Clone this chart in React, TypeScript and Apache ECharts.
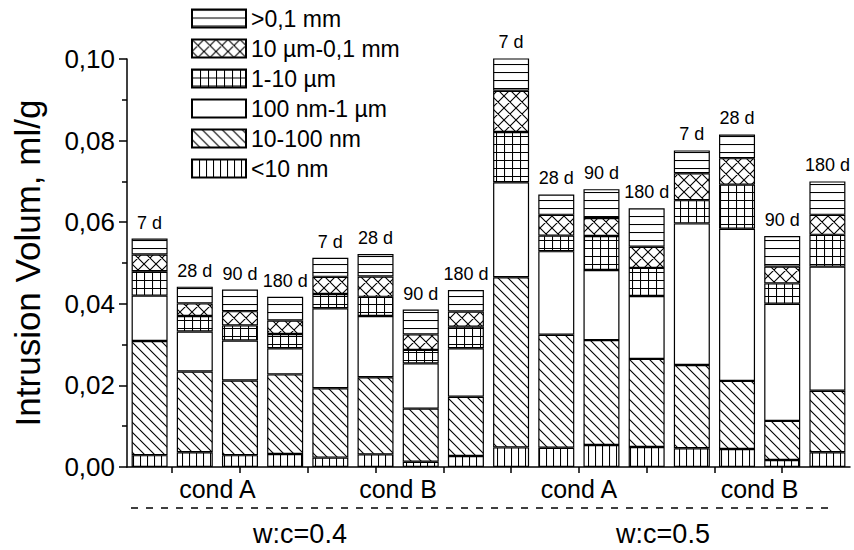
import React, { useEffect, useRef } from "react";
import * as echarts from "echarts";

// ---- data ----
const days = ["7 d", "28 d", "90 d", "180 d", "7 d", "28 d", "90 d", "180 d", "7 d", "28 d", "90 d", "180 d", "7 d", "28 d", "90 d", "180 d"];
const barIds = ["A04-7", "A04-28", "A04-90", "A04-180", "B04-7", "B04-28", "B04-90", "B04-180", "A05-7", "A05-28", "A05-90", "A05-180", "B05-7", "B05-28", "B05-90", "B05-180"];
const groupLabels = ["cond A", "cond B", "cond A", "cond B"];
const groupLabelPositions = [2, 6, 10, 14];
const xTickPositions = [1, 2.5, 4, 5.5, 7, 8.5, 10, 11.5, 13, 14.5];
const ratioLabels = ["w:c=0.4", "w:c=0.5"];

const poreLt10nm = [0.0029, 0.0036, 0.0029, 0.0032, 0.0023, 0.0031, 0.0013, 0.0027, 0.0048, 0.0047, 0.0054, 0.0049, 0.0046, 0.0044, 0.0017, 0.0036];
const pore10to100nm = [0.028, 0.0198, 0.0183, 0.0195, 0.017, 0.0189, 0.013, 0.0145, 0.0417, 0.0277, 0.0257, 0.0216, 0.0204, 0.0167, 0.0096, 0.0151];
const pore100nmTo1um = [0.0111, 0.0098, 0.0098, 0.0064, 0.0196, 0.015, 0.0111, 0.0119, 0.0233, 0.0205, 0.0172, 0.0154, 0.0347, 0.0373, 0.0287, 0.0304];
const pore1to10um = [0.006, 0.0038, 0.0037, 0.0035, 0.0035, 0.0047, 0.0033, 0.0053, 0.0123, 0.0038, 0.0083, 0.0069, 0.0057, 0.0108, 0.005, 0.0078];
const pore10umTo01mm = [0.0041, 0.0031, 0.0035, 0.0033, 0.0042, 0.005, 0.0038, 0.0037, 0.0101, 0.0051, 0.0044, 0.0052, 0.0066, 0.0065, 0.0041, 0.0049];
const poreGt01mm = [0.0039, 0.0041, 0.0053, 0.0058, 0.0047, 0.0055, 0.0061, 0.0053, 0.008, 0.005, 0.0071, 0.0094, 0.0056, 0.0058, 0.0075, 0.0082];

const seriesNames = ["<10 nm", "10-100 nm", "100 nm-1 µm", "1-10 µm", "10 µm-0,1 mm", ">0,1 mm"];
const seriesValues = [poreLt10nm, pore10to100nm, pore100nmTo1um, pore1to10um, pore10umTo01mm, poreGt01mm];
const seriesPatterns = ["vertical", "diagonal", "white", "grid", "cross", "horizontal"];
const legendOrder = [">0,1 mm", "10 µm-0,1 mm", "1-10 µm", "100 nm-1 µm", "10-100 nm", "<10 nm"];

const FONT = "Liberation Sans, Arial, sans-serif";

function makePattern(kind: string): any {
  if (kind === "white") return "#ffffff";
  const sizes: Record<string, [number, number]> = {
    horizontal: [8, 8],
    vertical: [7, 7],
    grid: [8, 8],
    diagonal: [10, 10],
    cross: [12, 12],
  };
  const [w, h] = sizes[kind];
  const c = document.createElement("canvas");
  c.width = w;
  c.height = h;
  const ctx = c.getContext("2d")!;
  ctx.fillStyle = "#fff";
  ctx.fillRect(0, 0, w, h);
  ctx.strokeStyle = "#000";
  ctx.lineWidth = 1.1;
  ctx.beginPath();
  if (kind === "horizontal" || kind === "grid") {
    ctx.moveTo(0, 0.5);
    ctx.lineTo(w, 0.5);
  }
  if (kind === "vertical" || kind === "grid") {
    ctx.moveTo(0.5, 0);
    ctx.lineTo(0.5, h);
  }
  if (kind === "diagonal" || kind === "cross") {
    ctx.moveTo(-1, -1);
    ctx.lineTo(w + 1, h + 1);
    ctx.moveTo(-1, h - 1);
    ctx.lineTo(1, h + 1);
    ctx.moveTo(w - 1, -1);
    ctx.lineTo(w + 1, 1);
  }
  if (kind === "cross") {
    ctx.moveTo(w + 1, -1);
    ctx.lineTo(-1, h + 1);
    ctx.moveTo(1, -1);
    ctx.lineTo(-1, 1);
    ctx.moveTo(w + 1, h - 1);
    ctx.lineTo(w - 1, h + 1);
  }
  ctx.stroke();
  return { image: c.toDataURL(), repeat: "repeat", imageWidth: w, imageHeight: h };
}

export default function App() {
  const ref = useRef<HTMLDivElement>(null);

  useEffect(() => {
    if (!ref.current) return;
    const chart = echarts.init(ref.current, null, { renderer: "svg" });

    const series = seriesNames.map((name, si) => ({
      name,
      type: "bar",
      stack: "total",
      xAxisIndex: 0,
      barWidth: 36,
      data: seriesValues[si],
      itemStyle: {
        color: makePattern(seriesPatterns[si]),
        borderColor: "#000",
        borderWidth: 1.2,
      },
      emphasis: { disabled: true },
      label:
        si === seriesNames.length - 1
          ? {
              show: true,
              position: "top",
              distance: 7,
              formatter: (p: any) => days[p.dataIndex],
              fontSize: 18,
              fontWeight: "normal",
              textBorderWidth: 0,
              fontFamily: FONT,
              color: "#000",
            }
          : { show: false },
    }));

    chart.setOption({
      animation: false,
      textStyle: { fontFamily: FONT, color: "#000" },
      grid: { left: 127, right: 4, top: 59, bottom: 83, containLabel: false },
      legend: {
        orient: "vertical",
        left: 186,
        top: 2,
        icon: "rect",
        itemWidth: 54,
        itemHeight: 18,
        itemGap: 7,
        data: legendOrder,
        textStyle: { fontSize: 23, fontFamily: FONT, color: "#000" },
        selectedMode: false,
      },
      xAxis: [
        {
          type: "category",
          data: barIds,
          boundaryGap: true,
          axisLine: { show: false },
          axisTick: { show: false },
          axisLabel: { show: false },
          splitLine: { show: false },
        },
        {
          type: "value",
          min: 0,
          max: 16,
          position: "bottom",
          axisLine: { show: true, onZero: false, lineStyle: { color: "#000", width: 1.5 } },
          axisTick: {
            show: true,
            customValues: xTickPositions,
            length: 6,
            inside: false,
            lineStyle: { color: "#000", width: 1.5 },
          },
          axisLabel: {
            show: true,
            customValues: groupLabelPositions,
            formatter: (v: number) => groupLabels[groupLabelPositions.indexOf(v)] ?? "",
            fontSize: 25,
            margin: 9,
            color: "#000",
            fontFamily: FONT,
          },
          splitLine: { show: false },
        },
      ],
      yAxis: {
        type: "value",
        min: 0,
        max: 0.1,
        interval: 0.02,
        name: "Intrusion Volum, ml/g",
        nameLocation: "middle",
        nameGap: 82,
        nameTextStyle: { fontSize: 35, fontFamily: FONT, color: "#000" },
        axisLine: { show: true, lineStyle: { color: "#000", width: 1.5 } },
        axisTick: { show: true, length: 8, inside: false, lineStyle: { color: "#000", width: 1.5 } },
        minorTick: { show: true, splitNumber: 2, length: 5, lineStyle: { color: "#000", width: 1.5 } },
        axisLabel: {
          formatter: (v: number) => v.toFixed(2).replace(".", ","),
          fontSize: 26,
          margin: 12,
          color: "#000",
          fontFamily: FONT,
        },
        splitLine: { show: false },
      },
      graphic: [
        {
          type: "line",
          shape: { x1: 131, y1: 508, x2: 835, y2: 508 },
          style: { stroke: "#000", lineWidth: 1.5, lineDash: [7, 8] },
          silent: true,
        },
        {
          type: "text",
          x: 300,
          y: 534,
          style: { text: ratioLabels[0], fontSize: 27, fontFamily: FONT, fill: "#000", textAlign: "center", textVerticalAlign: "middle" },
          silent: true,
        },
        {
          type: "text",
          x: 663,
          y: 534,
          style: { text: ratioLabels[1], fontSize: 27, fontFamily: FONT, fill: "#000", textAlign: "center", textVerticalAlign: "middle" },
          silent: true,
        },
      ],
      series,
    });

    return () => chart.dispose();
  }, []);

  return (
    <div
      ref={ref}
      style={{ position: "fixed", left: 0, top: 0, width: 854, height: 550, background: "#fff" }}
    />
  );
}
